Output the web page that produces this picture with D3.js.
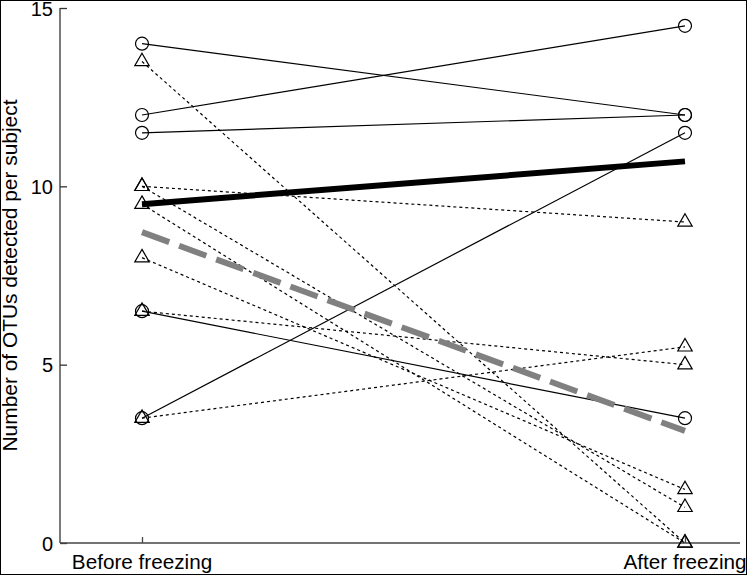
<!DOCTYPE html>
<html><head><meta charset="utf-8">
<script src="https://cdn.jsdelivr.net/npm/d3@7"></script>
<style>html,body{margin:0;padding:0;background:#fff;}svg{display:block;}</style>
</head><body>
<svg id="chart" width="747" height="575"></svg>
<script>
const categories = ["Before freezing", "After freezing"];
const circleBefore = [14, 12, 11.5, 6.5, 3.5];
const circleAfter  = [12, 14.5, 12, 3.5, 11.5];
const triBefore = [13.5, 10, 10, 9.5, 8, 6.5, 3.5];
const triAfter  = [0, 9, 1, 0, 1.5, 5, 5.5];
const yTicks = [0, 5, 10, 15];
const yTitle = "Number of OTUs detected per subject";

const svg = d3.select("#chart");
const W = 747, H = 575;
const x = d3.scalePoint().domain(categories).range([142, 685]).padding(0);
const y = d3.scaleLinear().domain([0, 15]).range([543, 8]);
const font = "'Liberation Sans', Arial, Helvetica, sans-serif";

svg.append("rect").attr("x", 0.5).attr("y", 0.5).attr("width", W - 1).attr("height", H - 1)
  .attr("fill", "#fff").attr("stroke", "#000").attr("stroke-width", 1);

// axes
const yAxis = d3.axisRight(y).tickValues(yTicks).tickSize(7).tickFormat("");
const gy = svg.append("g").attr("transform", "translate(60,0)").call(yAxis);
gy.select(".domain").remove();
gy.selectAll("line").attr("stroke", "#333").attr("stroke-width", 1.3);
svg.append("line").attr("x1", 60).attr("x2", 60).attr("y1", y(15)).attr("y2", y(0))
  .attr("stroke", "#333").attr("stroke-width", 1.3);
svg.selectAll(".ylab").data(yTicks).join("text").attr("class", "ylab")
  .attr("x", 53).attr("y", d => y(d)).attr("dy", "0.38em").attr("text-anchor", "end")
  .attr("font-family", font).attr("font-size", 20).text(d => d);

const xAxis = d3.axisTop(x).tickSize(6).tickFormat("");
const gx = svg.append("g").attr("transform", `translate(0,${y(0)})`).call(xAxis);
gx.select(".domain").remove();
gx.selectAll("line").attr("stroke", "#444").attr("stroke-width", 1.3);
svg.append("line").attr("x1", 60).attr("x2", 740).attr("y1", y(0)).attr("y2", y(0))
  .attr("stroke", "#444").attr("stroke-width", 1.5);
svg.selectAll(".xlab").data(categories).join("text").attr("class", "xlab")
  .attr("x", d => x(d)).attr("y", 569).attr("text-anchor", "middle")
  .attr("font-family", font).attr("font-size", 20.7).text(d => d);

svg.append("text").attr("transform", `translate(17,${(y(0) + y(15)) / 2}) rotate(-90)`)
  .attr("text-anchor", "middle").attr("font-family", font).attr("font-size", 20)
  .attr("textLength", 352).attr("lengthAdjust", "spacingAndGlyphs").text(yTitle);

// subject lines
const circ = circleBefore.map((b, i) => [b, circleAfter[i]]);
const tri = triBefore.map((b, i) => [b, triAfter[i]]);
svg.selectAll(".cl").data(circ).join("line").attr("class", "cl")
  .attr("x1", x(categories[0])).attr("x2", x(categories[1]))
  .attr("y1", d => y(d[0])).attr("y2", d => y(d[1]))
  .attr("stroke", "#000").attr("stroke-width", 1.2);
svg.selectAll(".tl").data(tri).join("line").attr("class", "tl")
  .attr("x1", x(categories[0])).attr("x2", x(categories[1]))
  .attr("y1", d => y(d[0])).attr("y2", d => y(d[1]))
  .attr("stroke", "#000").attr("stroke-width", 1.2).attr("stroke-dasharray", "3,3");

// mean lines
const circMean = [d3.mean(circleBefore), d3.mean(circleAfter)];
const triMean = [d3.mean(triBefore), d3.mean(triAfter)];
svg.append("line").attr("x1", x(categories[0])).attr("x2", x(categories[1]))
  .attr("y1", y(circMean[0])).attr("y2", y(circMean[1]))
  .attr("stroke", "#000").attr("stroke-width", 6);
svg.append("line").attr("x1", x(categories[0])).attr("x2", x(categories[1]))
  .attr("y1", y(triMean[0])).attr("y2", y(triMean[1]))
  .attr("stroke", "#808080").attr("stroke-width", 6).attr("stroke-dasharray", "29,10.5");

// markers
const pts = [];
circleBefore.forEach(v => pts.push({c: categories[0], v, s: "c"}));
circleAfter.forEach(v => pts.push({c: categories[1], v, s: "c"}));
triBefore.forEach(v => pts.push({c: categories[0], v, s: "t"}));
triAfter.forEach(v => pts.push({c: categories[1], v, s: "t"}));
svg.selectAll(".cm").data(pts.filter(p => p.s === "c")).join("circle").attr("class", "cm")
  .attr("cx", d => x(d.c)).attr("cy", d => y(d.v)).attr("r", 6.5)
  .attr("fill", "none").attr("stroke", "#000").attr("stroke-width", 1.2);
const triPath = d3.symbol().type(d3.symbolTriangle).size(90)();
svg.selectAll(".tm").data(pts.filter(p => p.s === "t")).join("path").attr("class", "tm")
  .attr("d", triPath).attr("transform", d => `translate(${x(d.c)},${y(d.v)})`)
  .attr("fill", "none").attr("stroke", "#000").attr("stroke-width", 1.2);
</script>
</body></html>
